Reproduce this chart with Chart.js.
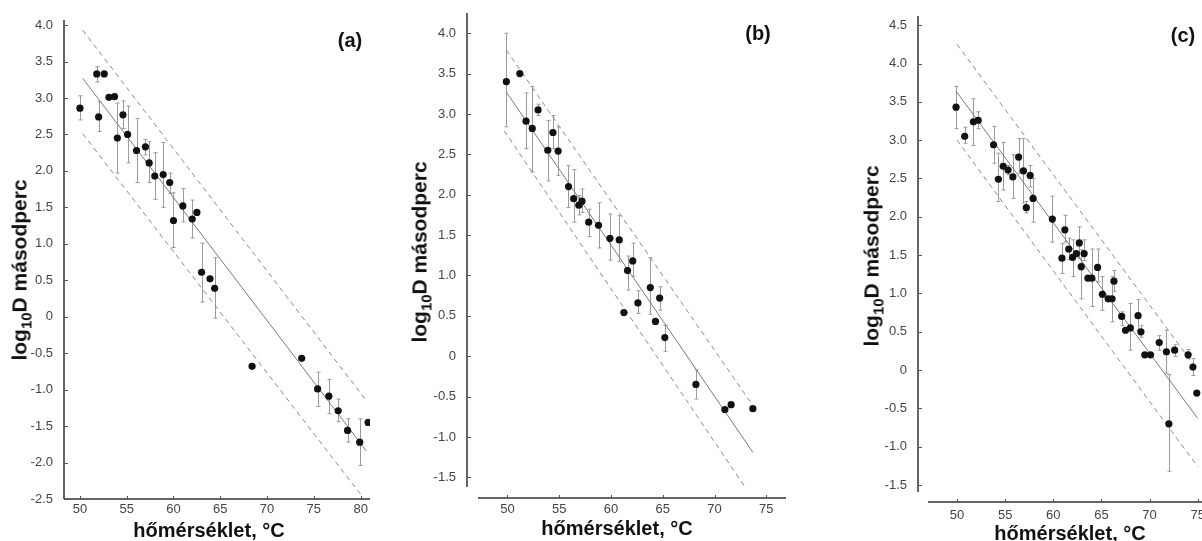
<!DOCTYPE html>
<html>
<head>
<meta charset="utf-8">
<script src="https://cdn.jsdelivr.net/npm/chart.js@4.4.1/dist/chart.umd.min.js"></script>
<style>
  body { margin: 0; background: #fff; overflow: hidden; }
  #wrap { position: relative; width: 1202px; height: 541px; overflow: hidden; }
  canvas { position: absolute; top: 0; }
  .t { position: absolute; font: bold 20px "Liberation Sans", Arial, sans-serif; color: #111; white-space: nowrap; }
  .yt { font-size: 21px; width: 280px; text-align: center; transform: translate(-50%, -50%) rotate(-90deg); }
  .xt { transform: translate(-50%, -50%); }
  .yt sub { font-size: 15px; vertical-align: -5px; }
  .pl { font-size: 20px; transform: translate(-50%, -50%); }
</style>
</head>
<body>
<div id="wrap">
  <canvas id="ca" width="400" height="541" style="left:0px"></canvas>
  <canvas id="cb" width="400" height="541" style="left:400px"></canvas>
  <canvas id="cc" width="440" height="541" style="left:800px"></canvas>

  <div class="t yt" style="left:21px;top:270px">log<sub>10</sub>D másodperc</div>
  <div class="t yt" style="left:421px;top:252px">log<sub>10</sub>D másodperc</div>
  <div class="t yt" style="left:873px;top:256px">log<sub>10</sub>D másodperc</div>

  <div class="t xt" style="left:209px;top:530px">hőmérséklet, °C</div>
  <div class="t xt" style="left:617px;top:528px">hőmérséklet, °C</div>
  <div class="t xt" style="left:1070px;top:533px">hőmérséklet, °C</div>

  <div class="t pl" style="left:350px;top:40px">(a)</div>
  <div class="t pl" style="left:758px;top:33px">(b)</div>
  <div class="t pl" style="left:1183px;top:35px">(c)</div>
</div>
<script>
// (a)
const tempA = [50.0, 51.8, 52.6, 52.0, 53.1, 53.7, 54.0, 54.6, 55.1, 56.05, 57.0, 57.4, 58.0, 58.9, 59.6, 60.0, 61.0, 62.0, 62.5, 63.0, 63.9, 64.4, 68.4, 73.7, 75.4, 76.6, 77.6, 78.6, 79.9, 80.8];
const logDA = [2.86, 3.33, 3.33, 2.74, 3.01, 3.02, 2.45, 2.77, 2.50, 2.28, 2.33, 2.11, 1.93, 1.95, 1.84, 1.32, 1.52, 1.34, 1.43, 0.61, 0.52, 0.39, -0.68, -0.57, -0.99, -1.09, -1.29, -1.56, -1.72, -1.45];
const errLoA = [2.70, 3.22, null, 2.54, null, null, 1.97, 2.58, 2.11, 1.84, 2.22, 1.84, 1.61, 1.50, 1.69, 0.95, 1.30, 1.08, null, 0.20, null, -0.02, null, null, -1.23, -1.33, -1.44, -1.72, -2.04, null];
const errHiA = [3.03, 3.43, null, 2.95, null, null, 2.93, 2.96, 2.89, 2.72, 2.43, 2.40, 2.25, 2.39, 1.97, 1.70, 1.76, 1.60, null, 1.01, null, 0.81, null, null, -0.76, -0.86, -1.13, -1.40, -1.40, null];
const fitA = [[50.3, 3.27], [80.6, -1.84]];
const upperA = [[50.3, 3.93], [80.6, -1.15]];
const lowerA = [[50.3, 2.51], [80.2, -2.47]];
const xTicksA = [50, 55, 60, 65, 70, 75, 80];
const yTicksA = [4.0, 3.5, 3.0, 2.5, 2.0, 1.5, 1.0, 0.5, 0, -0.5, -1.0, -1.5, -2.0, -2.5];

// (b)
const tempB = [49.9, 51.2, 51.8, 52.4, 52.96, 53.9, 54.4, 54.9, 55.9, 56.4, 56.9, 57.2, 57.85, 58.8, 59.9, 60.8, 61.25, 61.6, 62.1, 62.6, 63.8, 64.3, 64.7, 65.2, 68.2, 71.0, 71.6, 73.7];
const logDB = [3.40, 3.50, 2.91, 2.82, 3.05, 2.55, 2.77, 2.54, 2.10, 1.95, 1.87, 1.92, 1.66, 1.62, 1.46, 1.44, 0.54, 1.06, 1.18, 0.66, 0.85, 0.43, 0.72, 0.23, -0.35, -0.66, -0.60, -0.65];
const errLoB = [2.84, null, 2.57, 2.28, 2.98, 2.17, 2.57, 2.24, 1.84, 1.66, 1.75, 1.78, 1.48, 1.34, 1.19, 1.17, null, 0.82, 0.99, 0.53, 0.52, null, 0.57, 0.06, -0.53, null, null, null];
const errHiB = [4.00, null, 3.26, 3.34, 3.12, 2.92, 2.98, 2.84, 2.36, 2.31, 1.99, 2.07, 1.82, 1.90, 1.76, 1.74, null, 1.24, 1.40, 0.81, 1.22, null, 0.86, 0.38, -0.17, null, null, null];
const fitB = [[49.9, 3.27], [73.7, -1.19]];
const upperB = [[49.9, 3.79], [73.7, -0.61]];
const lowerB = [[49.7, 2.79], [73.1, -1.65]];
const xTicksB = [50, 55, 60, 65, 70, 75];
const yTicksB = [4.0, 3.5, 3.0, 2.5, 2.0, 1.5, 1.0, 0.5, 0, -0.5, -1.0, -1.5];

// (c)
const tempC = [49.9, 50.8, 51.7, 52.2, 53.8, 54.3, 54.8, 55.3, 55.8, 56.4, 56.9, 57.6, 57.9, 57.2, 59.9, 61.2, 61.6, 60.9, 62.0, 62.4, 62.7, 63.2, 62.9, 63.6, 64.0, 64.6, 65.1, 65.7, 66.1, 66.3, 67.1, 67.5, 68.0, 68.8, 69.1, 69.5, 70.1, 71.0, 71.75, 72.6, 74.0, 72.0, 74.5, 74.9];
const logDC = [3.43, 3.05, 3.24, 3.26, 2.94, 2.49, 2.66, 2.61, 2.52, 2.78, 2.60, 2.54, 2.24, 2.12, 1.97, 1.83, 1.58, 1.46, 1.47, 1.52, 1.66, 1.52, 1.35, 1.20, 1.20, 1.34, 0.99, 0.93, 0.93, 1.16, 0.70, 0.52, 0.55, 0.71, 0.50, 0.20, 0.20, 0.36, 0.24, 0.26, 0.20, -0.70, 0.04, -0.30];
const errLoC = [3.15, 2.96, 2.93, 3.15, 2.70, 2.20, 2.35, 2.55, 2.24, 2.57, 2.18, 2.39, 1.93, 2.05, 1.67, 1.67, 1.44, 1.26, 1.22, null, 1.46, 1.43, 0.93, null, 0.83, 1.15, 0.78, null, 0.63, 1.03, 0.58, null, 0.26, 0.52, 0.43, null, null, 0.26, -0.04, 0.18, 0.15, -1.32, -0.07, null];
const errHiC = [3.70, 3.17, 3.54, 3.37, 3.18, 2.83, 2.97, 2.67, 2.81, 3.02, 3.02, 2.67, 2.50, 2.20, 2.27, 2.02, 1.72, 1.65, 1.70, null, 1.87, 1.70, 1.57, null, 1.58, 1.58, 1.22, null, 1.22, 1.30, 0.76, null, 0.87, 0.92, 0.58, null, null, 0.45, 0.52, 0.33, 0.27, -0.06, 0.15, null];
const fitC = [[49.9, 3.64], [75.0, -0.63]];
const upperC = [[50.0, 4.25], [75.0, 0.0]];
const lowerC = [[50.0, 3.00], [75.0, -1.26]];
const xTicksC = [50, 55, 60, 65, 70, 75];
const yTicksC = [4.5, 4.0, 3.5, 3.0, 2.5, 2.0, 1.5, 1.0, 0.5, 0, -0.5, -1.0, -1.5];

// error bars drawn under the dots
const errorBars = {
  id: 'errorBars',
  beforeDatasetsDraw(chart) {
    const ctx = chart.ctx, xs = chart.scales.x, ys = chart.scales.y;
    ctx.save();
    ctx.strokeStyle = '#9a9a9a';
    ctx.lineWidth = 1;
    chart.data.datasets.forEach(ds => {
      if (!ds.errLo) return;
      ds.data.forEach((p, i) => {
        const lo = ds.errLo[i], hi = ds.errHi[i];
        if (lo == null || hi == null) return;
        const px = Math.round(xs.getPixelForValue(p.x)) + 0.5;
        const y1 = ys.getPixelForValue(hi), y2 = ys.getPixelForValue(lo);
        ctx.beginPath();
        ctx.moveTo(px, y1); ctx.lineTo(px, y2);
        ctx.moveTo(px - 2, y1); ctx.lineTo(px + 2, y1);
        ctx.moveTo(px - 2, y2); ctx.lineTo(px + 2, y2);
        ctx.stroke();
      });
    });
    ctx.restore();
  }
};

// axis lines with inward ticks; the x axis may sit a little off the corner
const axisLines = {
  id: 'axisLines',
  afterDraw(chart, args, opts) {
    const { ctx, chartArea: a } = chart;
    const xs = chart.scales.x, ys = chart.scales.y;
    const g = opts.gap || 0;
    const yb = a.bottom + g;
    ctx.save();
    ctx.strokeStyle = '#333';
    ctx.lineWidth = 1.5;
    ctx.beginPath();
    ctx.moveTo(a.left, a.top); ctx.lineTo(a.left, a.bottom);
    ctx.moveTo(a.left + g, yb); ctx.lineTo(a.right, yb);
    ctx.stroke();
    ctx.lineWidth = 1;
    ctx.strokeStyle = '#555';
    ctx.beginPath();
    ys.ticks.forEach(t => {
      const py = Math.round(ys.getPixelForValue(t.value)) + 0.5;
      ctx.moveTo(a.left, py); ctx.lineTo(a.left + 4, py);
    });
    xs.ticks.forEach(t => {
      const px = Math.round(xs.getPixelForValue(t.value)) + 0.5;
      ctx.moveTo(px, yb); ctx.lineTo(px, yb - 3);
    });
    ctx.stroke();
    ctx.restore();
  }
};

const pts = (xs, ys) => xs.map((x, i) => ({ x: x, y: ys[i] }));
const seg = s => s.map(p => ({ x: p[0], y: p[1] }));
const tickFont = { family: '"Liberation Sans", Arial, sans-serif', size: 13 };

function panel(id, c) {
  new Chart(document.getElementById(id), {
    type: 'scatter',
    data: {
      datasets: [
        {
          data: pts(c.temp, c.logD),
          errLo: c.lo, errHi: c.hi,
          backgroundColor: '#111', borderWidth: 0, pointRadius: 3.6
        },
        { data: seg(c.fit), showLine: true, borderColor: '#7a7a7a', borderWidth: 1, pointRadius: 0 },
        { data: seg(c.upper), showLine: true, borderColor: '#8a8a8a', borderWidth: 1, borderDash: [5, 4], pointRadius: 0 },
        { data: seg(c.lower), showLine: true, borderColor: '#8a8a8a', borderWidth: 1, borderDash: [5, 4], pointRadius: 0 }
      ]
    },
    options: {
      responsive: false,
      animation: false,
      layout: { padding: { top: c.top, right: c.padRight, bottom: 0, left: 0 } },
      plugins: {
        legend: { display: false },
        tooltip: { enabled: false },
        axisLines: { gap: c.gap }
      },
      scales: {
        x: {
          type: 'linear', min: c.xMin, max: c.xMax,
          grid: { display: false }, border: { display: false },
          afterBuildTicks: s => { s.ticks = c.xTicks.map(v => ({ value: v })); },
          afterFit: s => { s.height = c.xH; },
          ticks: { padding: c.xPad, color: '#444', font: tickFont, callback: v => String(v) }
        },
        y: {
          type: 'linear', min: c.yMin, max: c.yMax,
          grid: { display: false }, border: { display: false },
          afterBuildTicks: s => { s.ticks = c.yTicks.map(v => ({ value: v })); },
          afterFit: s => { s.width = c.yW; },
          ticks: { padding: 3, color: '#444', font: tickFont, callback: v => v === 0 ? '0' : v.toFixed(1) }
        }
      }
    },
    plugins: [errorBars, axisLines]
  });
}

panel('ca', {
  temp: tempA, logD: logDA, lo: errLoA, hi: errHiA, fit: fitA, upper: upperA, lower: lowerA,
  xTicks: xTicksA, yTicks: yTicksA, xMin: 48.3, xMax: 81.0, yMin: -2.5, yMax: 4.07,
  top: 20, padRight: 30, yW: 64, xH: 42, xPad: -5, gap: 0
});
panel('cb', {
  temp: tempB, logD: logDB, lo: errLoB, hi: errHiB, fit: fitB, upper: upperB, lower: lowerB,
  xTicks: xTicksB, yTicks: yTicksB, xMin: 46.1, xMax: 76.9, yMin: -1.62, yMax: 4.25,
  top: 13, padRight: 14, yW: 67, xH: 54, xPad: 7, gap: 11
});
panel('cc', {
  temp: tempC, logD: logDC, lo: errLoC, hi: errHiC, fit: fitC, upper: upperC, lower: lowerC,
  xTicks: xTicksC, yTicks: yTicksC, xMin: 45.95, xMax: 77.0, yMin: -1.59, yMax: 4.62,
  top: 16, padRight: 23, yW: 118, xH: 49, xPad: 8, gap: 10
});
</script>
</body>
</html>
